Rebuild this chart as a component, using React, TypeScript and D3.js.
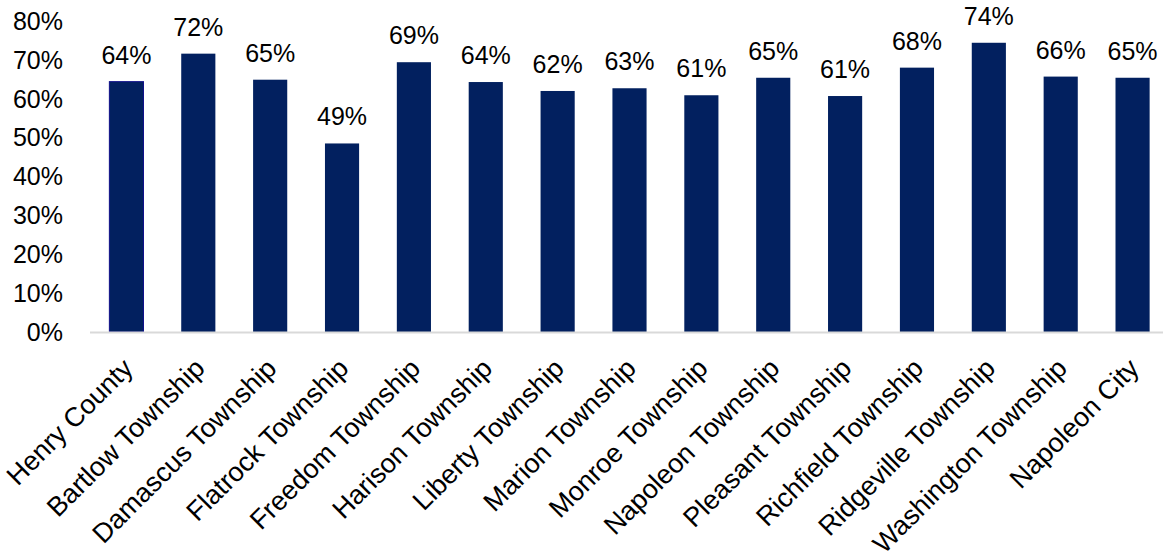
import React from "react";
import * as d3 from "d3";

const categories = [
  "Henry County",
  "Bartlow Township",
  "Damascus Township",
  "Flatrock Township",
  "Freedom Township",
  "Harison Township",
  "Liberty Township",
  "Marion Township",
  "Monroe Township",
  "Napoleon Township",
  "Pleasant Township",
  "Richfield Township",
  "Ridgeville Township",
  "Washington Township",
  "Napoleon City",
];

const values = [0.644, 0.716, 0.649, 0.485, 0.694, 0.643, 0.62, 0.627, 0.609, 0.654, 0.607, 0.68, 0.744, 0.657, 0.654];

const yTicks = [0, 0.1, 0.2, 0.3, 0.4, 0.5, 0.6, 0.7, 0.8];

const W = 1163;
const H = 558;
const FONT = "'Liberation Sans', Arial, sans-serif";

export default function App() {
  const x = d3
    .scaleBand<string>()
    .domain(categories)
    .range([90.5, 1168.5])
    .paddingInner(0.525)
    .paddingOuter(0.2625);
  const y = d3.scaleLinear().domain([0, 0.8]).range([332, 21]);
  const fmt = d3.format(".0%");

  return (
    <div style={{ position: "absolute", left: 0, top: 0 }}>
      <svg width={W} height={H} style={{ display: "block", background: "#fff" }}>
        {yTicks.map((t) => (
          <text
            key={t}
            x={63}
            y={y(t)}
            dy="0.35em"
            textAnchor="end"
            fontFamily={FONT}
            fontSize={25}
            fill="#000"
          >
            {fmt(t)}
          </text>
        ))}
        {categories.map((c, i) => {
          const bx = x(c)!;
          const bw = x.bandwidth();
          const top = y(values[i]);
          return (
            <g key={c}>
              <rect
                x={bx}
                y={top}
                width={bw}
                height={y(0) - top}
                fill="#02205f"
                stroke={i === 0 ? "#10108a" : "none"}
                strokeWidth={i === 0 ? 1 : 0}
              />
              <text
                x={bx + bw / 2}
                y={top - 18}
                textAnchor="middle"
                fontFamily={FONT}
                fontSize={25}
                fill="#000"
              >
                {fmt(values[i])}
              </text>
              <text
                transform={`translate(${bx + bw / 2 + 8},${370}) rotate(-45)`}
                textAnchor="end"
                fontFamily={FONT}
                fontSize={27}
                fill="#000"
              >
                {c}
              </text>
            </g>
          );
        })}
        <line x1={90} x2={W} y1={y(0) + 0.5} y2={y(0) + 0.5} stroke="#d9d9d9" strokeWidth={2} />
      </svg>
    </div>
  );
}
